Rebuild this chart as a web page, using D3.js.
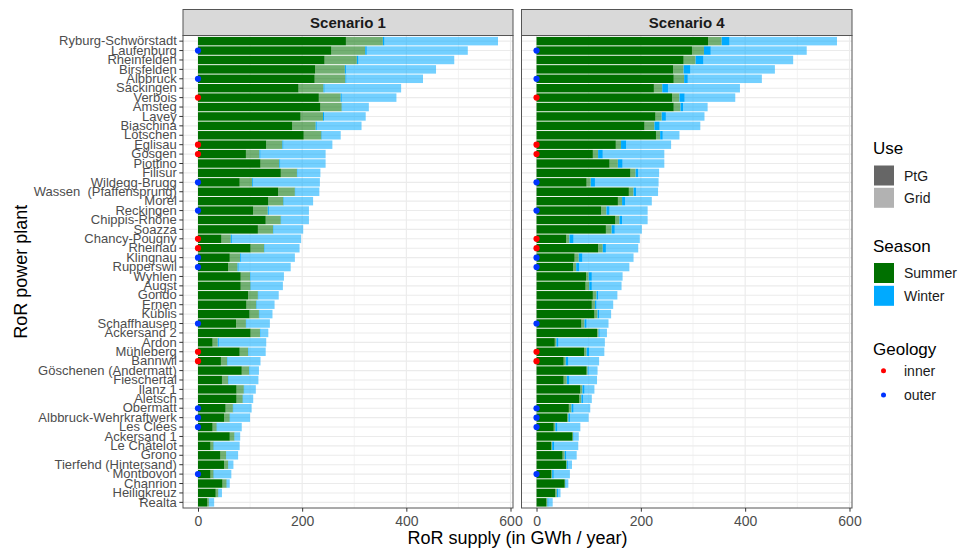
<!DOCTYPE html>
<html>
<head>
<meta charset="utf-8">
<script src="https://cdn.jsdelivr.net/npm/d3@7"></script>
<style>
body{margin:0;background:#fff;}
text{font-family:"Liberation Sans",Arial,sans-serif;}
.ytick text{white-space:pre;}
</style>
</head>
<body>
<div id="chart"></div>
<script>
// plants, top to bottom
var plants = ["Ryburg-Schwörstadt","Laufenburg","Rheinfelden","Birsfelden","Albbruck","Säckingen","Verbois","Amsteg","Lavey","Biaschina",
  "Lötschen","Eglisau","Gösgen","Piottino","Filisur","Wildegg-Brugg","Wassen  (Pfaffensprung)","Morel","Reckingen","Chippis-Rhône",
  "Soazza","Chancy-Pougny","Rheinau","Klingnau","Rupperswil","Wyhlen","Augst","Gondo","Ernen","Küblis",
  "Schaffhausen","Ackersand 2","Ardon","Mühleberg","Bannwil","Göschenen (Andermatt)","Fieschertal","Ilanz 1","Aletsch","Obermatt",
  "Albbruck-Wehrkraftwerk","Les Clées","Ackersand 1","Le Châtelot","Grono","Tierfehd (Hintersand)","Montbovon","Chanrion","Heiligkreuz","Realta"];

// supply per season (GWh/year), same in both scenarios
var summerTotal = [355,321,305,282,283,241,274,276,240,226,237,162,118,156,190,104,186,164,134,159,
  144,63,127,81,76,100,101,115,112,117,92,119,38,96,56,98,58,88,86,67,61,36,70,30,54,58,30,55,39,21];
var winterTotal = [221,197,187,175,149,149,107,52,82,88,37,96,127,89,45,130,47,57,79,54,
  58,135,68,105,102,65,62,40,35,26,46,16,93,34,64,19,58,23,20,36,39,48,11,50,23,10,34,6,7,10];

// part used for PtG, the rest goes to the grid
var s1SummerPtG = [284,256,243,225,224,193,232,235,197,181,203,131,92,120,159,80,154,135,106,130,
  115,45,101,61,58,82,82,96,93,99,73,101,28,80,44,84,46,74,74,53,50,28,61,24,43,50,24,47,34,18];
var s1WinterPtG = [3,3,3,2,2,2,2,1,2,2,1,2,2,2,1,2,1,1,2,1,1,2,1,2,2,1,1,1,1,1,1,1,2,1,1,1,1,1,1,1,
  1,1,0.5,1,0.5,0.5,1,0.5,0.5,0.5];
var s4SummerPtG = [329,298,282,262,263,225,260,263,228,207,229,152,108,140,180,96,177,156,124,151,
  133,57,118,73,70,95,94,108,106,111,86,116,35,91,52,96,52,84,82,62,59,33,69,28,50,57,28,54,36,19];
var s4WinterPtG = [15,13,15,13,7,11,10,5,8,10,5,10,9,9,5,8,5,6,6,5,6,8,6,7,6,6,5,3,3,3,4,2,4,5,5,2,
  5,4,3,4,3,4,1,4,3,2,3,1,2,2];

var innerPlants = ["Verbois","Eglisau","Gösgen","Chancy-Pougny","Rheinau","Mühleberg","Bannwil"];
var outerPlants = ["Laufenburg","Albbruck","Wildegg-Brugg","Reckingen","Klingnau","Rupperswil","Schaffhausen",
  "Obermatt","Albbruck-Wehrkraftwerk","Les Clées","Montbovon"];

var scenarios = ["Scenario 1","Scenario 4"];
var xTicks = [0,200,400,600];
var xMinor = [100,300,500];
var useLabels = ["PtG","Grid"];
var seasonLabels = ["Summer","Winter"];
var geologyLabels = ["inner","outer"];

var seasonColor = {"Summer":"#007000","Winter":"#00aaff"};
var geoColor = {"inner":"#ff0000","outer":"#0033ff"};
var keys = ["sPtG","sGrid","wPtG","wGrid"];

var W = 959, H = 551;
var panelTop = 35.5, panelBottom = 508, stripTop = 9.5;
var panels = [[183,513],[521.5,852]];

var svg = d3.select("#chart").append("svg")
  .attr("width", W)
  .attr("height", H);

function makeRows(sPtG, wPtG){
  var rows = [];
  for(var i=0;i<plants.length;i++){
    rows.push({"plant":plants[i],
      "sPtG":sPtG[i], "sGrid":summerTotal[i]-sPtG[i],
      "wPtG":wPtG[i], "wGrid":winterTotal[i]-wPtG[i]});
  }
  return rows;
}
var scenarioRows = [makeRows(s1SummerPtG,s1WinterPtG), makeRows(s4SummerPtG,s4WinterPtG)];

var maxTotal = d3.max(plants, function(p,i){return summerTotal[i]+winterTotal[i];});

var y = d3.scaleBand()
  .domain(plants)
  .range([panelTop, panelBottom])
  .paddingInner(0.1)
  .paddingOuter(0.15);

function drawPanel(k){
  var x = d3.scaleLinear()
    .domain([-0.05*maxTotal, 1.05*maxTotal])
    .range(panels[k]);
  var g = svg.append("g");
  var x0 = panels[k][0], x1 = panels[k][1];

  g.append("rect").attr("x",x0).attr("y",panelTop).attr("width",x1-x0).attr("height",panelBottom-panelTop)
    .attr("fill","#fff");

  // grid
  g.selectAll(".minor").data(xMinor).enter().append("line")
    .attr("x1",function(d){return x(d);}).attr("x2",function(d){return x(d);})
    .attr("y1",panelTop).attr("y2",panelBottom)
    .attr("stroke","#ebebeb").attr("stroke-width",0.6);
  g.selectAll(".major").data(xTicks).enter().append("line")
    .attr("x1",function(d){return x(d);}).attr("x2",function(d){return x(d);})
    .attr("y1",panelTop).attr("y2",panelBottom)
    .attr("stroke","#ebebeb").attr("stroke-width",1.1);
  g.selectAll(".hgrid").data(plants).enter().append("line")
    .attr("x1",x0).attr("x2",x1)
    .attr("y1",function(d){return y(d)+y.bandwidth()/2;})
    .attr("y2",function(d){return y(d)+y.bandwidth()/2;})
    .attr("stroke","#ebebeb").attr("stroke-width",1.1);

  // stacked bars
  var stacked = d3.stack().keys(keys)(scenarioRows[k]);
  g.selectAll(".layer").data(stacked).enter().append("g")
    .attr("fill",function(d){return d.key.charAt(0)==="s" ? seasonColor.Summer : seasonColor.Winter;})
    .attr("fill-opacity",function(d){return d.key.indexOf("Grid")>0 ? 0.55 : 1;})
    .selectAll("rect").data(function(d){return d;}).enter().append("rect")
    .attr("x",function(d){return x(d[0]);})
    .attr("width",function(d){return Math.max(0,x(d[1])-x(d[0]));})
    .attr("y",function(d){return y(d.data.plant);})
    .attr("height",y.bandwidth());

  // geology dots
  var geo = [];
  innerPlants.forEach(function(p){geo.push({"plant":p,"g":"inner"});});
  outerPlants.forEach(function(p){geo.push({"plant":p,"g":"outer"});});
  g.selectAll(".dot").data(geo).enter().append("circle")
    .attr("cx",x(0))
    .attr("cy",function(d){return y(d.plant)+y.bandwidth()/2;})
    .attr("r",3.1)
    .attr("fill",function(d){return geoColor[d.g];});

  g.append("rect").attr("x",x0).attr("y",panelTop).attr("width",x1-x0).attr("height",panelBottom-panelTop)
    .attr("fill","none").attr("stroke","#555").attr("stroke-width",1);

  // strip
  g.append("rect").attr("x",x0).attr("y",stripTop).attr("width",x1-x0).attr("height",panelTop-stripTop)
    .attr("fill","#d9d9d9").attr("stroke","#555").attr("stroke-width",1);
  g.append("text").attr("x",(x0+x1)/2).attr("y",27.5)
    .attr("text-anchor","middle").attr("font-size","15px").attr("font-weight","bold").attr("fill","#1a1a1a")
    .text(scenarios[k]);

  var ax = g.append("g")
    .attr("transform","translate(0,"+panelBottom+")")
    .call(d3.axisBottom(x).tickValues(xTicks).tickSize(3.7).tickPadding(4));
  ax.select(".domain").remove();
  ax.selectAll("line").attr("stroke","#333");
  ax.selectAll("text").attr("font-size","14px").attr("fill","#4d4d4d").attr("font-family","Liberation Sans, Arial, sans-serif");

  if(k===0){
    var ay = g.append("g").attr("class","ytick")
      .attr("transform","translate("+x0+",0)")
      .call(d3.axisLeft(y).tickSize(3.7).tickPadding(2.5));
    ay.select(".domain").remove();
    ay.selectAll("line").attr("stroke","#333");
    ay.selectAll("text").attr("font-size","13px").attr("fill","#4d4d4d").attr("font-family","Liberation Sans, Arial, sans-serif");
  }
}
drawPanel(0);
drawPanel(1);

// axis titles
svg.append("text").attr("x",(panels[0][0]+panels[1][1])/2).attr("y",544)
  .attr("text-anchor","middle").attr("font-size","18px").attr("fill","#000")
  .text("RoR supply (in GWh / year)");
svg.append("text").attr("transform","translate(27,"+((panelTop+panelBottom)/2)+") rotate(-90)")
  .attr("text-anchor","middle").attr("font-size","18px").attr("fill","#000")
  .text("RoR power plant");

// legends
var lg = svg.append("g");
function legendTitle(t,yy){
  lg.append("text").attr("x",873).attr("y",yy).attr("font-size","17px").attr("fill","#000").text(t);
}
function legendLabel(t,yy){
  lg.append("text").attr("x",904).attr("y",yy).attr("font-size","14px").attr("fill","#1a1a1a").text(t);
}
legendTitle("Use",154);
useLabels.forEach(function(l,i){
  lg.append("rect").attr("x",874).attr("y",165.5+i*22.3).attr("width",20).attr("height",20)
    .attr("fill","#666").attr("fill-opacity",i===0 ? 1 : 0.5);
  legendLabel(l,180.5+i*22.3);
});
legendTitle("Season",251.5);
seasonLabels.forEach(function(l,i){
  lg.append("rect").attr("x",874).attr("y",263+i*22.8).attr("width",20).attr("height",20)
    .attr("fill",seasonColor[l]);
  legendLabel(l,278+i*22.8);
});
legendTitle("Geology",355);
geologyLabels.forEach(function(l,i){
  lg.append("circle").attr("cx",883.5).attr("cy",370.7+i*24.3).attr("r",2.5)
    .attr("fill",geoColor[l]);
  legendLabel(l,375.7+i*24.3);
});
</script>
</body>
</html>
